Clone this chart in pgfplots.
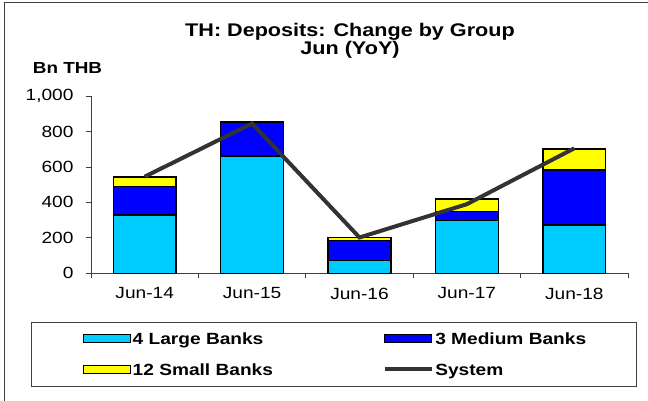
\documentclass[border=0pt]{standalone}
\usepackage{pgfplots}
\pgfplotsset{compat=1.18}
\usepackage{fontspec}
\setmainfont{Liberation Sans}[FakeStretch=1.18]
\definecolor{large}{HTML}{00CCFF}
\definecolor{medium}{HTML}{0000FF}
\definecolor{small}{HTML}{FFFF00}
\definecolor{sysline}{HTML}{333333}
\definecolor{axline}{HTML}{404040}

\pgfplotsset{
  base/.style={
    at={(91pt,127.7pt)}, anchor=south west, scale only axis,
    width=537pt, height=177.3pt,
    xmin=-0.5, xmax=4.5, ymin=0, ymax=1000,
  },
  swatch/.style={legend image code/.code={\draw[##1] (0pt,-2pt) rectangle (47pt,6pt);}},
  lineswatch/.style={legend image code/.code={\draw[##1] (0pt,2pt) -- (47pt,2pt);}},
}

\begin{document}
\begin{tikzpicture}
% outer frame (cut at right and bottom)
\draw[axline, line width=0.8pt] (4pt,0pt) -- (4pt,399pt) -- (648pt,399pt);

\begin{axis}[base,
  ybar stacked, bar width=0.586,
  axis x line*=bottom, axis y line*=left,
  axis line style={axline, line width=0.8pt},
  xtick={0,...,4},
  xticklabels={Jun-14,Jun-15,Jun-16,Jun-17,Jun-18},
  major x tick style={draw=none},
  minor xtick={-0.5,0.5,...,4.5},
  minor x tick style={axline, line width=0.8pt},
  ytick={0,200,...,1000},
  y tick style={axline, line width=0.8pt},
  tick align=outside, major tick length=5pt, minor tick length=5pt,
  ticklabel style={font=\fontsize{16.2}{19}\selectfont},
  /pgf/number format/1000 sep={,},
  /pgf/number format/assume math mode=true,
  yticklabel style={xshift=-9pt},
  xticklabel style={yshift=-6pt},
  every axis plot/.append style={draw=black, line width=1.4pt},
]
\addplot[fill=large] coordinates {(0,328) (1,661) (2,72) (3,297) (4,273)};
\addplot[fill=medium] coordinates {(0,160) (1,193) (2,112) (3,51) (4,310)};
\addplot[fill=small] coordinates {(0,56) (1,0) (2,18) (3,70) (4,118)};
\end{axis}

\begin{axis}[base, axis lines=none,
  legend columns=2,
  legend cell align=left,
  legend style={draw=none, fill=none, inner sep=0pt, outer sep=0pt,
    at={(-0.0158,-0.337)}, anchor=north west,
    font=\bfseries\fontsize{16.2}{19}\selectfont,
    nodes={inner xsep=1.8pt, inner ysep=0pt, text height=11.5pt, text depth=3pt},
    row sep=16.5pt},
]
\addlegendimage{fill=large, draw=black, line width=1.4pt, swatch}
\addlegendentry{\makebox[248pt][l]{4 Large Banks}}
\addlegendimage{fill=medium, draw=black, line width=1.4pt, swatch}
\addlegendentry{3 Medium Banks}
\addlegendimage{fill=small, draw=black, line width=1.4pt, swatch}
\addlegendentry{\makebox[248pt][l]{12 Small Banks}}
\addplot[sharp plot, sysline, line width=4pt, lineswatch]
  coordinates {(0,545) (1,845) (2,202) (3,390) (4,705)};
\addlegendentry{System}
\end{axis}

% legend frame
\draw[axline, line width=0.8pt] (31pt,79pt) rectangle (636pt,15pt);

% titles
\node[anchor=base, font=\bfseries\fontsize{18.3}{20}\selectfont] at (350pt,364pt) {TH: Deposits: Change by Group};
\node[anchor=base, font=\bfseries\fontsize{18.3}{20}\selectfont] at (350pt,346pt) {Jun (YoY)};
\node[anchor=base, font=\bfseries\fontsize{16}{18}\selectfont] at (67.5pt,327pt) {Bn THB};

\pgfresetboundingbox
\path[use as bounding box] (0pt,0pt) rectangle (648pt,401pt);
\end{tikzpicture}
\end{document}
